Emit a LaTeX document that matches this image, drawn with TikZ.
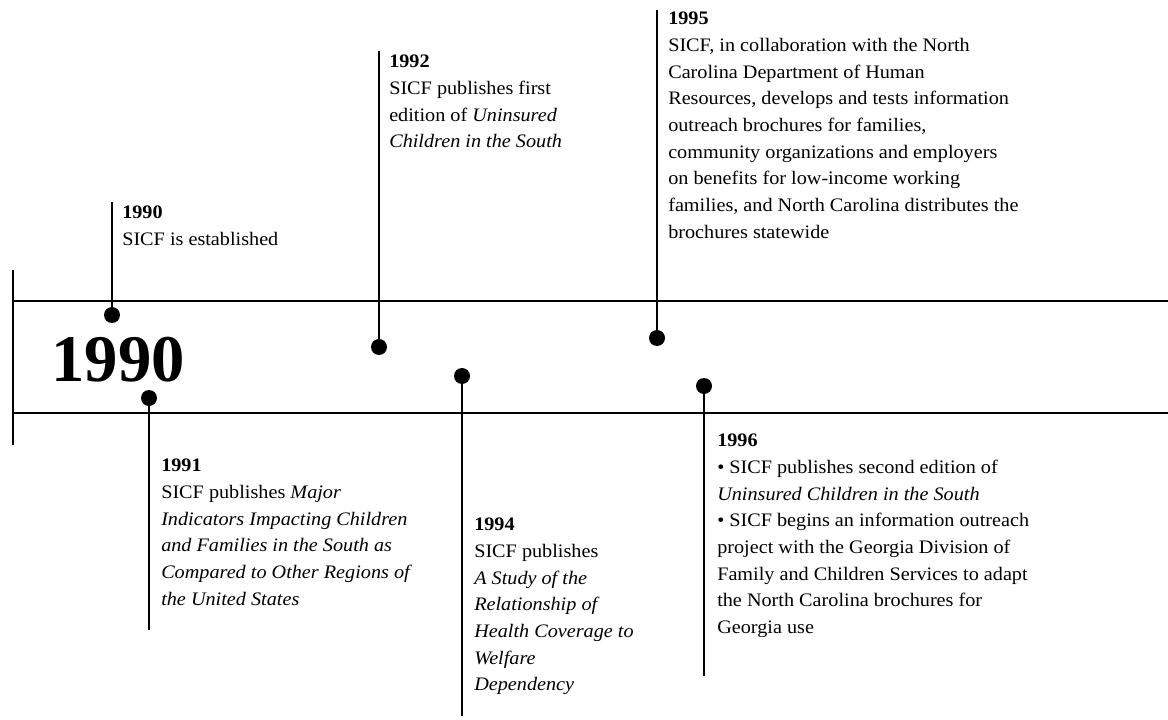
\documentclass[tikz,border=0pt]{standalone}
\usepackage{fontspec}
\setmainfont[FakeStretch=1.06]{Liberation Serif}
\newfontfamily\yearfont{Liberation Serif}
\begin{document}
\begin{tikzpicture}[x=0.75pt,y=-0.75pt,
		rule/.style={line width=0.8pt},
		stem/.style={line width=2pt},
		dot/.style={circle,fill,inner sep=0pt,minimum size=12pt},
		entry/.style={anchor=north west,inner sep=0pt,align=left,font=\fontsize{14.3}{20}\selectfont}]
		\useasboundingbox (0,0) rectangle (1168,720);
		\draw [line width=1.1pt] (13,270) -- (13,445);
		\draw [rule] (13,301) -- (1168,301);
		\draw [rule] (13,413) -- (1168,413);
		\node (big) at (118,360) {\yearfont\fontsize{50}{50}\selectfont\bfseries 1990};
		% above the band
		\node [dot] (d1990) at (112,315) {};
		\coordinate (s1990) at (112,202);
		\draw [stem] (s1990) -- (d1990.center);
		\node [entry] (t1990) at (122,206) {\textbf{1990}\\SICF is established};
		\node [dot] (d1992) at (379,347) {};
		\coordinate (s1992) at (379,51);
		\draw [stem] (s1992) -- (d1992.center);
		\node [entry] (t1992) at (389,55) {\textbf{1992}\\SICF publishes first\\edition of \textit{Uninsured}\\\textit{Children in the South}};
		\node [dot] (d1995) at (657,338) {};
		\coordinate (s1995) at (657,10);
		\draw [stem] (s1995) -- (d1995.center);
		\node [entry] (t1995) at (668,12) {\textbf{1995}\\SICF, in collaboration with the North\\Carolina Department of Human\\Resources, develops and tests information\\outreach brochures for families,\\community organizations and employers\\on benefits for low-income working\\families, and North Carolina distributes the\\brochures statewide};
		% below the band
		\node [dot] (d1991) at (149,398) {};
		\coordinate (s1991) at (149,630);
		\draw [stem] (d1991.center) -- (s1991);
		\node [entry] (t1991) at (161,459) {\textbf{1991}\\SICF publishes \textit{Major}\\\textit{Indicators Impacting Children}\\\textit{and Families in the South as}\\\textit{Compared to Other Regions of}\\\textit{the United States}};
		\node [dot] (d1994) at (462,376) {};
		\coordinate (s1994) at (462,716);
		\draw [stem] (d1994.center) -- (s1994);
		\node [entry] (t1994) at (474,518) {\textbf{1994}\\SICF publishes\\\textit{A Study of the}\\\textit{Relationship of}\\\textit{Health Coverage to}\\\textit{Welfare}\\\textit{Dependency}};
		\node [dot] (d1996) at (704,386) {};
		\coordinate (s1996) at (704,676);
		\draw [stem] (d1996.center) -- (s1996);
		\node [entry] (t1996) at (717,434) {\textbf{1996}\\• SICF publishes second edition of\\\textit{Uninsured Children in the South}\\• SICF begins an information outreach\\project with the Georgia Division of\\Family and Children Services to adapt\\the North Carolina brochures for\\Georgia use};
	\end{tikzpicture}
\end{document}
